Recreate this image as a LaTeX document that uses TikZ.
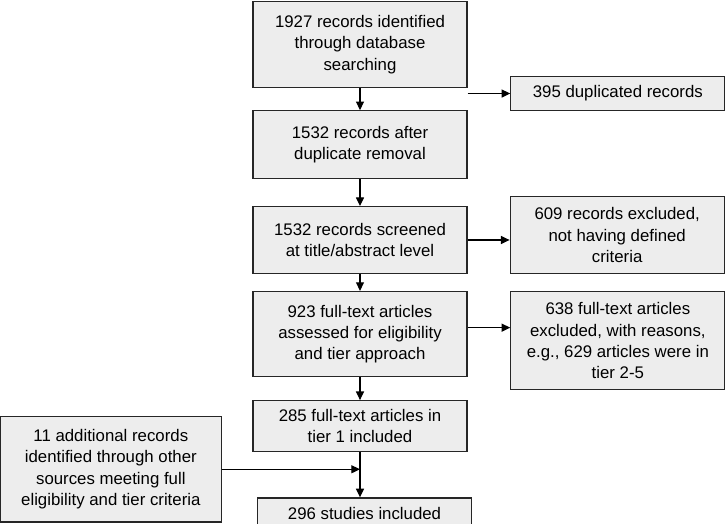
\documentclass[tikz,border=0pt]{standalone}
\usepackage{fontspec}
\setmainfont{Liberation Sans}
\usetikzlibrary{positioning,arrows.meta}

\begin{document}
\begin{tikzpicture}[
  font=\fontsize{12.6}{16}\selectfont,
  box/.style = {draw=black!85, line width=0.9pt, fill=black!7,
                align=center, inner sep=2pt, minimum width=160.5pt},
  arr/.style = {-{Triangle[length=6.5pt, width=6pt]}, line width=0.9pt}
]
\useasboundingbox (0,0) rectangle (544.5pt,-393pt);

% ---------- main column ----------------------------------------------------
\node[box, minimum height=64.5pt, anchor=north] (n1) at (270pt,-0.75pt)
  {1927 records identified\\through database\\searching};
\node[box, minimum height=51pt, below=16.5pt of n1] (n2)
  {1532 records after\\duplicate removal};
\node[box, minimum height=50pt, below=20pt of n2] (n3)
  {1532 records screened\\at title/abstract level};
\node[box, minimum height=64pt, below=12.75pt of n3] (n4)
  {923 full-text articles\\assessed for eligibility\\and tier approach};
\node[box, minimum height=38pt, below=17pt of n4] (n5)
  {285 full-text articles in\\tier 1 included};
\node[box, minimum height=23pt, below=34pt of n5, xshift=3.4pt] (n6)
  {296 studies included};

% ---------- exclusions -----------------------------------------------------
\node[box, minimum height=25pt, right=32pt of n1.south east, yshift=-4pt] (x1)
  {395 duplicated records};
\node[box, minimum height=58pt, right=31.5pt of n3, yshift=3.75pt] (x2)
  {609 records excluded,\\not having defined\\criteria};
\node[box, minimum height=73.5pt, right=32pt of n4, yshift=-4.9pt] (x3)
  {638 full-text articles\\excluded, with reasons,\\e.g., 629 articles were in\\tier 2-5};

% ---------- other sources --------------------------------------------------
\node[box, minimum width=165.75pt, minimum height=79pt,
      left=26.25pt of n6, yshift=33pt] (add)
  {11 additional records\\identified through other\\sources meeting full\\eligibility and tier criteria};

% ---------- arrows ---------------------------------------------------------
\draw[arr] (n1) -- (n2);
\draw[arr] (n2) -- (n3);
\draw[arr] (n3) -- (n4);
\draw[arr] (n4) -- (n5);
\draw[arr] (n5.south) -- (n5.south |- n6.north);

\draw[arr] (x1.west -| n1.east) -- (x1.west);
\draw[arr] (n3.east) -- (n3.east -| x2.west);
\draw[arr] ([yshift=4.9pt]n4.east) -- ([yshift=4.9pt]n4.east -| x3.west);
\draw[arr] (add.east) -- (add.east -| n5.south);

\end{tikzpicture}
\end{document}
